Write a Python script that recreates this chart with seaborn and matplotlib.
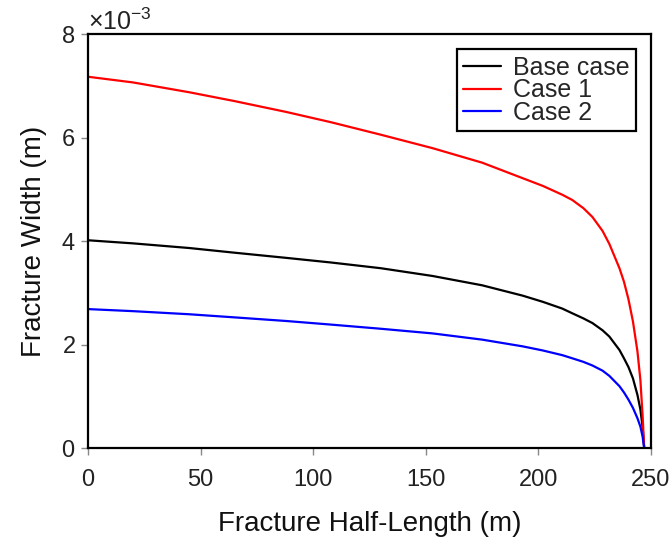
import numpy as np
import pandas as pd
import matplotlib
matplotlib.use("Agg")
import matplotlib.pyplot as plt
from matplotlib.ticker import ScalarFormatter
import seaborn as sns

# Data (fracture width in units of 1e-3 m)
half_length = [0, 20, 45, 65, 88, 108, 130, 153, 175, 193, 202, 210.6, 215, 220, 224,
               228.5, 231.5, 236, 238, 240, 242, 244, 245.3, 246.3, 247]
base_case = [4.02, 3.96, 3.87, 3.78, 3.68, 3.59, 3.48, 3.33, 3.15, 2.95, 2.83, 2.70, 2.61, 2.51, 2.42,
             2.28, 2.16, 1.90, 1.74, 1.57, 1.35, 1.03, 0.75, 0.40, 0.0]
case_1 = [7.18, 7.07, 6.88, 6.71, 6.50, 6.30, 6.06, 5.80, 5.52, 5.22, 5.07, 4.90, 4.80, 4.64, 4.47,
          4.20, 3.95, 3.48, 3.22, 2.88, 2.45, 1.87, 1.32, 0.62, 0.0]
case_2 = [2.69, 2.65, 2.59, 2.53, 2.46, 2.39, 2.31, 2.22, 2.10, 1.97, 1.89, 1.80, 1.74, 1.67, 1.60,
          1.50, 1.40, 1.20, 1.08, 0.94, 0.78, 0.58, 0.42, 0.22, 0.0]
series_names = ["Base case", "Case 1", "Case 2"]
series_colors = ["#000000", "#ff0000", "#0000ff"]

rows = []
for name, vals in zip(series_names, [base_case, case_1, case_2]):
    for x, v in zip(half_length, vals):
        rows.append({"x": x, "w": v * 1e-3, "case": name})
df = pd.DataFrame(rows)

sns.set_style("white")
plt.rcParams["font.family"] = ["Liberation Sans", "DejaVu Sans"]
plt.rcParams["mathtext.fontset"] = "custom"
plt.rcParams["mathtext.rm"] = "Liberation Sans"
plt.rcParams["mathtext.it"] = "Liberation Sans:italic"
plt.rcParams["mathtext.bf"] = "Liberation Sans:bold"

fig = plt.figure(figsize=(6.7, 5.42), dpi=100)
ax = fig.add_axes([0.1313, 0.1729, 0.9716 - 0.1313, 0.9367 - 0.1729])

sns.lineplot(data=df, x="x", y="w", hue="case", hue_order=series_names,
             palette=dict(zip(series_names, series_colors)), linewidth=1.6,
             ax=ax, legend=True, sort=False, estimator=None)

ax.set_xlim(0, 250)
ax.set_ylim(0, 8e-3)
ax.set_xticks([0, 50, 100, 150, 200, 250])
ax.set_yticks([0, 2e-3, 4e-3, 6e-3, 8e-3])
fmt = ScalarFormatter(useMathText=True)
fmt.set_powerlimits((-2, 2))
ax.yaxis.set_major_formatter(fmt)
ax.yaxis.get_offset_text().set_fontsize(18)

ax.tick_params(axis="both", which="major", labelsize=17, direction="out",
               length=5, width=1, color="#888888", labelcolor="#222222")
ax.tick_params(axis="x", pad=10)
ax.tick_params(axis="y", pad=4)
ax.tick_params(bottom=True, left=True)

for s in ax.spines.values():
    s.set_visible(True)
    s.set_color("black")
    s.set_linewidth(1.6)

ax.set_xlabel("Fracture Half-Length (m)", fontsize=20, labelpad=14, color="#111111")
ax.set_ylabel("Fracture Width (m)", fontsize=20, labelpad=10, color="#111111")

leg = ax.legend(loc="upper right", fontsize=18, frameon=True, fancybox=False,
                handlelength=1.5, handletextpad=0.5, labelspacing=-0.05,
                borderpad=0.25, borderaxespad=0.6, title=None)
leg.get_frame().set_edgecolor("black")
leg.get_frame().set_linewidth(1.6)
leg.get_frame().set_alpha(1)
for line in leg.get_lines():
    line.set_linewidth(1.6)

fig.savefig("out.png", dpi=100)
